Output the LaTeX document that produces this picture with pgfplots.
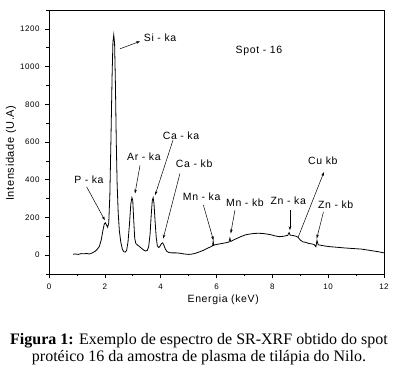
\documentclass[border=0pt]{standalone}
\usepackage{fontspec}
\setmainfont{Liberation Sans}
\newfontfamily\serif{Liberation Serif}
\newfontfamily\spaced[LetterSpace=6]{Liberation Sans}
\usepackage{pgfplots}
\pgfplotsset{compat=1.18}
\usetikzlibrary{arrows.meta}
\begin{document}
\begin{tikzpicture}[x=1pt,y=1pt]
\path (0,0) rectangle (398,377);
\begin{axis}[
  at={(49pt,103pt)}, anchor=south west,
  scale only axis, width=335pt, height=264pt,
  xmin=0, xmax=12, ymin=-100, ymax=1300,
  xtick={0,2,...,12}, minor xtick={1,3,...,11},
  ytick={0,200,...,1200}, minor ytick={-100,100,...,1300},
  tick align=outside, tick pos=left,
  major tick length=4pt, minor tick length=2.5pt,
  every tick/.style={black, line width=0.6pt},
  axis line style={line width=0.8pt},
  /pgf/number format/assume math mode=true,
  /pgf/number format/1000 sep={},
  ticklabel style={font=\fontsize{8}{9}\spaced},
  xticklabel style={yshift=-2pt},
  yticklabel style={xshift=-2pt},
  xlabel={Energia (keV)},
  ylabel={Intensidade (U.A)},
  xlabel style={font=\fontsize{10.5}{12}\spaced, at={(axis description cs:0.52,-0.098)}, anchor=center},
  ylabel style={font=\fontsize{11}{12}\spaced, at={(axis description cs:-0.113,0.458)}, anchor=center},
  clip=false,
]
\addplot[black, line width=0.8pt, mark=none] coordinates {
(0.86,5) (0.95,6) (1.05,4) (1.15,8) (1.25,7) (1.35,9) (1.45,6) (1.55,12) (1.65,20) (1.72,30)
(1.80,45) (1.87,80) (1.93,130) (1.98,165) (2.02,172) (2.06,160) (2.10,148) (2.14,170) (2.18,320)
(2.22,620) (2.26,950) (2.29,1130) (2.32,1168) (2.35,1120) (2.38,900) (2.41,600) (2.44,380)
(2.48,220) (2.52,130) (2.57,70) (2.63,30) (2.68,18) (2.73,16) (2.78,25) (2.83,70) (2.88,160)
(2.93,270) (2.97,305) (3.00,290) (3.03,200) (3.07,90) (3.11,62) (3.16,55) (3.22,48) (3.30,38)
(3.38,28) (3.45,22) (3.52,25) (3.57,45) (3.62,110) (3.66,210) (3.70,290) (3.73,305) (3.76,275)
(3.80,180) (3.84,95) (3.88,50) (3.93,40) (3.98,48) (4.03,62) (4.07,65) (4.11,55) (4.16,35)
(4.22,20) (4.30,14) (4.40,12) (4.55,12) (4.70,10) (4.85,6) (5.00,4) (5.10,5) (5.25,10)
(5.40,18) (5.55,27) (5.70,38) (5.80,45) (5.86,50) (5.88,75) (5.90,52) (5.95,55) (6.05,58)
(6.20,62) (6.35,66) (6.45,70) (6.48,90) (6.51,72) (6.60,80) (6.75,90) (6.90,100) (7.05,108)
(7.20,112) (7.35,115) (7.50,116) (7.65,115) (7.80,112) (7.95,108) (8.10,102) (8.25,98)
(8.40,100) (8.55,105) (8.60,120) (8.64,106) (8.75,104) (8.85,100) (8.92,95) (9.00,80)
(9.10,70) (9.20,68) (9.30,62) (9.40,60) (9.50,56) (9.56,45) (9.60,78) (9.64,55) (9.75,52)
(9.90,48) (10.05,45) (10.3,42) (10.6,38) (10.9,35) (11.2,32) (11.5,25) (11.8,18) (12.0,12)
};
\tikzset{ann/.style={font=\fontsize{10.5}{12}\spaced, inner sep=0pt}, arr/.style={-{Stealth[length=4pt,width=2.6pt]}, line width=0.5pt}}
\node[ann] at (axis cs:3.98,1152) {Si - ka};
\draw[arr] (axis cs:2.54,1094) -- (axis cs:3.26,1134);
\node[ann] at (axis cs:7.52,1085) {Spot - 16};
\node[ann] at (axis cs:4.73,635) {Ca - ka};
\draw[arr] (axis cs:4.44,609) -- (axis cs:3.8,318);
\node[ann] at (axis cs:3.4,524) {Ar - ka};
\draw[arr] (axis cs:3.26,476) -- (axis cs:3.08,327);
\node[ann] at (axis cs:5.2,485) {Ca - kb};
\draw[arr] (axis cs:4.69,433) -- (axis cs:4.09,88);
\node[ann] at (axis cs:1.43,401) {P - ka};
\draw[arr] (axis cs:1.35,362) -- (axis cs:2.0,185);
\node[ann] at (axis cs:5.47,312) {Mn - ka};
\draw[arr] (axis cs:5.53,265) -- (axis cs:5.89,79);
\node[ann] at (axis cs:7.02,277) {Mn - kb};
\draw[arr] (axis cs:6.66,238) -- (axis cs:6.51,115);
\node[ann] at (axis cs:8.57,291) {Zn - ka};
\draw[arr] (axis cs:8.63,238) -- (axis cs:8.63,132);
\node[ann] at (axis cs:9.81,503) {Cu kb};
\draw[arr] (axis cs:8.93,97) -- (axis cs:9.85,441);
\node[ann] at (axis cs:10.27,265) {Zn - kb};
\draw[arr] (axis cs:9.83,229) -- (axis cs:9.59,88);
\end{axis}
\node[align=center, font=\serif\fontsize{16}{16.7}\selectfont] at (199pt,28pt)
  {\textbf{Figura 1:} Exemplo de espectro de SR-XRF obtido do spot\\protéico 16 da amostra de plasma de tilápia do Nilo.};
\end{tikzpicture}
\end{document}
